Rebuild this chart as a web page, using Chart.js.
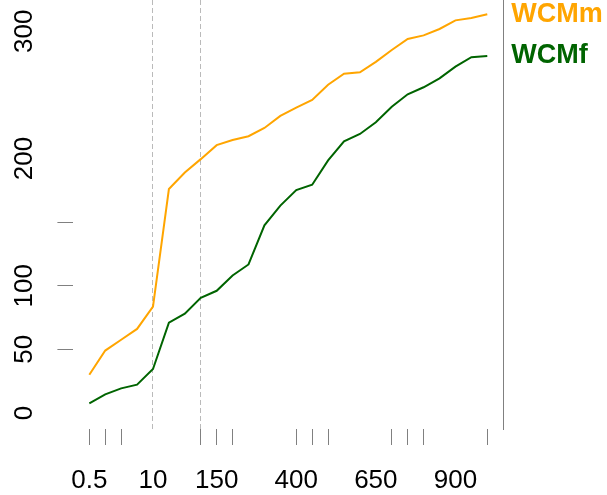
<!DOCTYPE html>
<html>
<head>
<meta charset="utf-8">
<script src="https://cdn.jsdelivr.net/npm/chart.js@4.4.1/dist/chart.umd.min.js"></script>
<style>
  html, body { margin: 0; padding: 0; background: #ffffff; }
  #wrap { width: 607px; height: 495px; }
</style>
</head>
<body>
<div id="wrap"><canvas id="c" width="607" height="495"></canvas></div>
<script>
// ---- data ----
const categories = ['0.5','1','2','5','10','25','50','100','150','200','250','300','350','400','450','500','550','600','650','700','750','800','850','900','950','1000'];
const wcmm = [30, 49, 57.5, 66, 83.5, 176, 189, 199.5, 210.5, 214.5, 217.5, 224, 233.5, 240, 246, 258, 266.6, 267.8, 276, 285.3, 294, 296.8, 301.8, 308.6, 310.4, 313.4];
const wcmf = [7.5, 14.6, 19.3, 22.2, 34.5, 71, 78, 90.5, 96, 108, 116.7, 147.5, 163, 175.2, 179.4, 198.5, 213.5, 219.3, 228.5, 240.7, 250.5, 256, 263, 272.2, 279.6, 280.6];
const xTickLabels = ['0.5','10','150','400','650','900'];
const xTickMarks = ['0.5','1','2','100','150','200','400','450','500','700','750','800','1000'];
const xDashed = ['10','100'];
const yTickLabels = [0, 50, 100, 200, 300];
const yTickMarks = [50, 100, 150];

const idx = c => categories.indexOf(c);
const labelIdx = xTickLabels.map(idx);
const markIdx = xTickMarks.map(idx);
const dashIdx = xDashed.map(idx);
const xTickValues = Array.from(new Set([...labelIdx, ...markIdx, ...dashIdx])).sort((a,b)=>a-b);
const yTickValues = Array.from(new Set([...yTickLabels, ...yTickMarks])).sort((a,b)=>a-b);

const toPoints = arr => arr.map((v, i) => ({x: i, y: v}));
const FONT = "'Liberation Sans', Arial, sans-serif";

const endLabels = {
  id: 'endLabels',
  afterDraw(chart) {
    const ctx = chart.ctx;
    const ys = chart.scales.y;
    ctx.save();
    ctx.font = "bold 27px " + FONT;
    ctx.textBaseline = 'middle';
    ctx.textAlign = 'left';
    chart.data.datasets.forEach(ds => {
      const last = ds.data[ds.data.length - 1].y;
      ctx.fillStyle = ds.borderColor;
      ctx.fillText(ds.label, chart.chartArea.right + 8, ys.getPixelForValue(last));
    });
    ctx.restore();
  }
};

const noPadV = s => { s.paddingTop = 0; s.paddingBottom = 0; };
const noPadH = s => { s.paddingLeft = 0; s.paddingRight = 0; };

new Chart(document.getElementById('c'), {
  type: 'line',
  data: {
    datasets: [
      { label: 'WCMm', data: toPoints(wcmm), borderColor: '#FFA500', borderWidth: 2, pointRadius: 0, tension: 0, fill: false },
      { label: 'WCMf', data: toPoints(wcmf), borderColor: '#006400', borderWidth: 2, pointRadius: 0, tension: 0, fill: false }
    ]
  },
  options: {
    responsive: false,
    animation: false,
    layout: { padding: 0 },
    plugins: { legend: { display: false }, tooltip: { enabled: false } },
    scales: {
      x: {
        type: 'linear',
        min: -1, max: 26,
        afterBuildTicks: s => { s.ticks = xTickValues.map(v => ({value: v})); },
        afterFit: s => { s.height = 66; noPadH(s); },
        ticks: {
          autoSkip: false, maxRotation: 0, minRotation: 0,
          color: '#000', font: { family: FONT, size: 26 }, padding: 20,
          callback: v => labelIdx.includes(v) ? categories[v] : ''
        },
        grid: {
          drawOnChartArea: true,
          color: c => dashIdx.includes(c.tick && c.tick.value) ? '#bababa' : 'rgba(0,0,0,0)',
          lineWidth: 1,
          tickColor: c => markIdx.includes(c.tick && c.tick.value) ? '#808080' : 'rgba(0,0,0,0)',
          tickLength: 16, tickWidth: 1, tickBorderDash: []
        },
        border: { display: false, dash: [5, 3] }
      },
      y: {
        type: 'linear',
        position: 'left',
        min: -12.66, max: 324.6,
        afterBuildTicks: s => { s.ticks = yTickValues.map(v => ({value: v})); },
        afterFit: s => { s.width = 73.4; noPadV(s); },
        ticks: {
          autoSkip: false, minRotation: 90, maxRotation: 90, crossAlign: 'center',
          color: '#000', font: { family: FONT, size: 26 }, padding: 11,
          callback: v => yTickLabels.includes(v) ? String(v) : ''
        },
        grid: {
          drawOnChartArea: false,
          tickColor: c => yTickMarks.includes(c.tick && c.tick.value) ? '#808080' : 'rgba(0,0,0,0)',
          tickLength: 16, tickWidth: 1
        },
        border: { display: false }
      },
      y2: {
        type: 'linear',
        position: 'right',
        min: -12.66, max: 324.6,
        afterFit: s => { s.width = 103.8; noPadV(s); },
        ticks: { display: false },
        grid: { drawOnChartArea: false, drawTicks: false },
        border: { display: true, color: '#808080', width: 1 }
      }
    }
  },
  plugins: [endLabels]
});
</script>
</body>
</html>
